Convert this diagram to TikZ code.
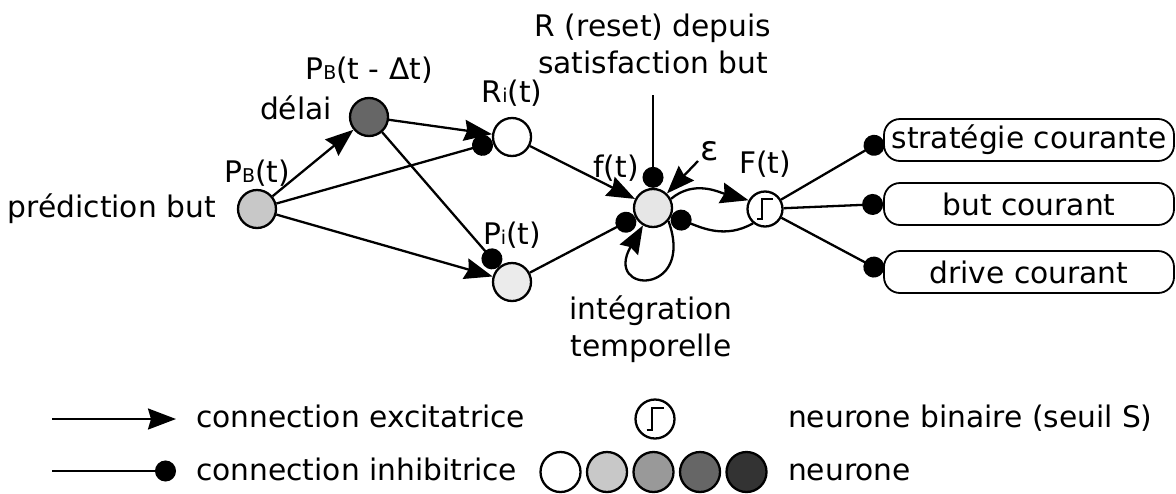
\documentclass[tikz,border=0pt]{standalone}
\usepackage{fontspec}
\setmainfont{DejaVu Sans}
\usepackage{tikz}
\usetikzlibrary{arrows.meta,positioning}

\definecolor{gris1}{HTML}{C8C8C8}
\definecolor{gris2}{HTML}{999999}
\definecolor{gris3}{HTML}{666666}
\definecolor{gris4}{HTML}{333333}
\definecolor{gris5}{HTML}{EBEBEB}
\definecolor{gris6}{HTML}{E6E6E6}

\newcommand{\petit}[1]{{\fontsize{9.5}{9.5}\selectfont #1}}
% symbole echelon dans un neurone binaire
\newcommand{\echelon}[2]{\draw[line width=1pt]([shift={(-8.5*#2,-11*#2)}]#1.center)--++(5*#2,0)--++(0,22*#2)--++(12*#2,0);}

\begin{document}
\begin{tikzpicture}[x=0.5pt,y=0.5pt,line width=1.15pt,
  font=\fontsize{14.85}{18.5}\selectfont,
  neuron/.style={circle,draw,inner sep=0pt,minimum size=19pt},
  seuil/.style={circle,draw,fill=white,inner sep=0pt,minimum size=17.5pt},
  lbl/.style={inner sep=0pt},
  exc/.style={-{Stealth[length=14pt,width=10.5pt,inset=1.5pt]}},
  inh/.style={-{Circle[length=10.5pt]}},
  sortie/.style={draw,rounded corners=8pt,line width=0.9pt,minimum width=145pt,minimum height=21pt,inner sep=0pt}]
\useasboundingbox (0,0) rectangle (1176,-493);

% neurones
\node[neuron,fill=gris1] (pb) at (257,-209) {};
\node[neuron,fill=gris3] (delai) at (369,-117) {};
\node[neuron,fill=white] (ri) at (512,-137) {};
\node[neuron,fill=gris5] (pi) at (512,-282) {};
\node[neuron,fill=gris6] (ft) at (653,-208) {};
\node[seuil] (Ft) at (765,-209) {};
\echelon{Ft}{0.9}

% sorties
\node[sortie] (strat) at (1029,-140) {stratégie courante};
\node[sortie] (but) at (1029,-204) {but courant};
\node[sortie] (drive) at (1029,-272) {drive courant};

% textes
\node[lbl,left=10pt of pb] (pred) {prédiction but};
\node[lbl,above=0.5pt of pb] (pblbl) {P\petit{B}(t)};
\node[lbl,above=6pt of delai] (dlbl) {P\petit{B}(t - Δt)};
\node[lbl,anchor=base east] (delailbl) at (333,-119) {délai};
\node[lbl,above=4.5pt of ri] (rilbl) {R\petit{i}(t)};
\node[lbl,above=6pt of pi] (pilbl) {P\petit{i}(t)};
\node[lbl,anchor=base] (ftlbl) at (616,-177) {f(t)};
\node[lbl,above=6pt of Ft] (Ftlbl) {F(t)};
\node[lbl,anchor=base] (epslbl) at (710,-160) {\fontsize{17}{17}\selectfont ε};
\node[lbl,align=center,anchor=north] (reset) at (653,-12.5) {R (reset) depuis\\satisfaction but};
\node[lbl,align=center,anchor=north] (integ) at (651,-295) {intégration\\temporelle};

% connexions
\draw[exc] (pb) -- (delai);
\draw[inh] (pb) -- (ri);
\draw[exc] (pb) -- (pi);
\draw[exc] (delai) -- (ri);
\draw[inh] (delai) -- (pi);
\draw[exc] (ri) -- (ft);
\draw[inh] (pi) -- (ft);
\coordinate (rtop) at (653,-95);
\draw[inh] (rtop) -- (ft);
\coordinate (eps) at (698,-161);
\draw[exc] (eps) -- (ft);
\draw[exc] (ft.27) to[out=40,in=165] (Ft.152);
\draw[inh] (Ft.-130) to[out=-150,in=-20] (ft.-25);
\draw[exc] (ft.-40) .. controls +(-70:40pt) and +(-120:40pt) .. (ft.-120);
\foreach \s in {strat,but,drive}
  \draw[inh] (Ft) -- (\s.west);

% legende
\coordinate (e1) at (52,-419);
\coordinate (e2) at (176,-419);
\draw[exc] (e1) -- (e2);
\coordinate (i1) at (52,-471);
\coordinate (i2) at (176,-471);
\draw[inh] (i1) -- (i2);
\node[lbl,anchor=base west] (lexc) at (195,-427.5) {connection excitatrice};
\node[lbl,anchor=base west] (linh) at (195,-480) {connection inhibitrice};
\node[seuil,minimum size=19.5pt] (lbin) at (655,-419) {};
\echelon{lbin}{1}
\foreach \c [count=\i] in {white,gris1,gris2,gris3,gris4}
  \node[neuron,minimum size=20pt,fill=\c] (n\i) at (514+46.5*\i,-472) {};
\node[lbl,anchor=base west] (lseuil) at (787,-427) {neurone binaire (seuil S)};
\node[lbl,anchor=base west] (lneur) at (787,-480) {neurone};
\end{tikzpicture}
\end{document}
